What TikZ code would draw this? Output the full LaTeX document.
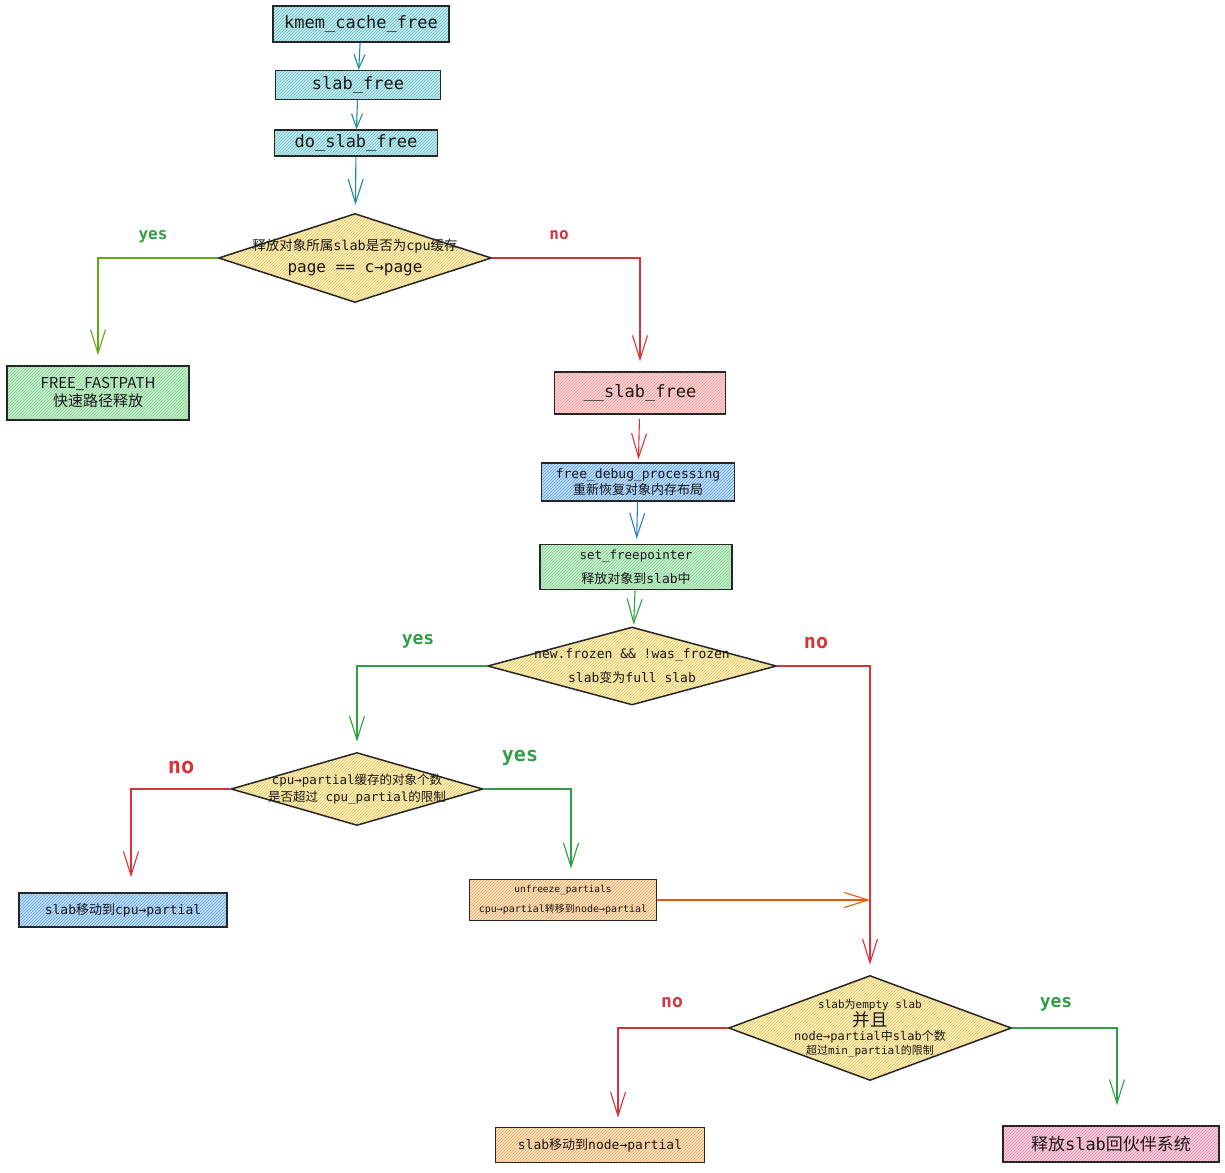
\documentclass[tikz,border=0pt]{standalone}
\usepackage{fontspec}
\setmonofont{DejaVu Sans Mono}
\newfontfamily\cjk{Noto Sans CJK SC}
\usepackage{tikz}
\usetikzlibrary{shapes.geometric}
\usetikzlibrary{arrows.meta}
\usetikzlibrary{patterns}

\definecolor{tealfill}{HTML}{C5ECEF}
\definecolor{tealline}{HTML}{66BCC6}
\definecolor{greenfill}{HTML}{C9F0CF}
\definecolor{greenline}{HTML}{7FCF8C}
\definecolor{pinkfill}{HTML}{FFD4D4}
\definecolor{pinkline}{HTML}{EC9A9A}
\definecolor{bluefill}{HTML}{C4E0FB}
\definecolor{blueline}{HTML}{5C9EE0}
\definecolor{orangefill}{HTML}{FFE2BF}
\definecolor{orangeline}{HTML}{E7A865}
\definecolor{yellowfill}{HTML}{FFF0B8}
\definecolor{yellowline}{HTML}{E2C36A}
\definecolor{rosefill}{HTML}{FCD0DF}
\definecolor{roseline}{HTML}{E58AA9}
\definecolor{tealarrow}{HTML}{1C8C9C}
\definecolor{redarrow}{HTML}{D6333A}
\definecolor{bluearrow}{HTML}{2D7CC9}
\definecolor{greenarrow}{HTML}{2F9E44}
\definecolor{olivearrow}{HTML}{66A80F}
\definecolor{orangearrow}{HTML}{E8590C}

\newcommand{\zh}[1]{{\cjk #1}}

\begin{document}
\begin{tikzpicture}[x=1pt,y=-1pt,
  box/.style={draw=black!85,line width=1.5pt,inner sep=0pt,align=center,text=black!90},
  hatch/.style 2 args={preaction={fill=#1},pattern=north east lines,pattern color=#2},
  decision/.style={shape=diamond,draw=black!85,line width=1.5pt,inner xsep=-50pt,inner ysep=0pt,
    aspect=3,align=center,text=black!90,hatch={yellowfill}{yellowline}},
  flow/.style={line width=1.1pt,-{Straight Barb[length=24pt,width=15pt]},shorten >=10pt},
  yeslabel/.style={font=\ttfamily\bfseries\fontsize{#1}{#1}\selectfont,text=greenarrow},
  nolabel/.style={font=\ttfamily\bfseries\fontsize{#1}{#1}\selectfont,text=redarrow},
]
  \useasboundingbox (0,0) rectangle (1225,1172);

  % call chain
  \node[box,hatch={tealfill}{tealline},minimum width=176pt,minimum height=36pt,
    font=\ttfamily\fontsize{17}{20}\selectfont] (kmem) at (361,24) {kmem\_cache\_free};
  \node[box,hatch={tealfill}{tealline},minimum width=165pt,minimum height=29pt,
    font=\ttfamily\fontsize{17}{20}\selectfont] (slabf) at (358,85) {slab\_free};
  \node[box,hatch={tealfill}{tealline},minimum width=163pt,minimum height=26pt,
    font=\ttfamily\fontsize{17}{20}\selectfont] (doslab) at (356,143) {do\_slab\_free};

  % first check
  \node[decision,minimum width=273pt,minimum height=89pt,
    font=\ttfamily\fontsize{13.5}{22}\selectfont] (d1) at (355,258)
    {\zh{释放对象所属}slab\zh{是否为}cpu\zh{缓存}\\{\fontsize{16}{22}\selectfont page == c→page}};
  \node[box,hatch={greenfill}{greenline},minimum width=182pt,minimum height=54pt,
    font=\cjk\fontsize{15}{18}\selectfont] (fast) at (98,393) {FREE\_FASTPATH\\快速路径释放};
  \node[box,hatch={pinkfill}{pinkline},minimum width=171pt,minimum height=42pt,
    font=\ttfamily\fontsize{17}{20}\selectfont] (sfree) at (640,393) {\_\_slab\_free};
  \node[box,hatch={bluefill}{blueline},minimum width=193pt,minimum height=38pt,
    font=\ttfamily\fontsize{13}{16}\selectfont] (debug) at (638,482)
    {free\_debug\_processing\\\zh{重新恢复对象内存布局}};
  \node[box,hatch={greenfill}{greenline},minimum width=192pt,minimum height=45pt,
    font=\ttfamily\fontsize{12.5}{24}\selectfont] (setfp) at (636,567)
    {set\_freepointer\\{\fontsize{13}{24}\selectfont\zh{释放对象到}slab\zh{中}}};

  % frozen check
  \node[decision,minimum width=289pt,minimum height=78pt,
    font=\ttfamily\fontsize{13}{24}\selectfont] (d2) at (632,666)
    {new.frozen \&\& !was\_frozen\\slab\zh{变为}full slab};
  \node[decision,minimum width=252pt,minimum height=73pt,
    font=\ttfamily\fontsize{12.5}{17}\selectfont] (d3) at (357,789)
    {cpu→partial\zh{缓存的对象个数}\\\zh{是否超过} cpu\_partial\zh{的限制}};
  \node[box,hatch={bluefill}{blueline},minimum width=208pt,minimum height=34pt,
    font=\ttfamily\fontsize{13}{16}\selectfont] (cpup) at (123,910) {slab\zh{移动到}cpu→partial};
  \node[box,hatch={orangefill}{orangeline},minimum width=187pt,minimum height=41pt,
    font=\ttfamily\fontsize{9.5}{20}\selectfont] (unf) at (563,900)
    {unfreeze\_partials\\{\fontsize{10}{20}\selectfont cpu→partial\zh{转移到}node→partial}};

  % empty check
  \node[decision,minimum width=283pt,minimum height=105pt,
    font=\ttfamily\fontsize{11}{14}\selectfont] (d4) at (870,1028)
    {slab\zh{为}empty slab\\{\cjk\fontsize{17.5}{18}\selectfont 并且}\\{\fontsize{12}{13}\selectfont node→partial\zh{中}slab\zh{个数}}\\\zh{超过}min\_partial\zh{的限制}};
  \node[box,hatch={orangefill}{orangeline},minimum width=209pt,minimum height=35pt,
    font=\ttfamily\fontsize{13}{16}\selectfont] (nodep) at (600,1145) {slab\zh{移动到}node→partial};
  \node[box,hatch={rosefill}{roseline},minimum width=216pt,minimum height=36pt,
    font=\ttfamily\fontsize{17}{20}\selectfont] (buddy) at (1111,1144) {\zh{释放}slab\zh{回伙伴系统}};

  % branch labels
  \node[yeslabel=16] (y1) at (153,237) {yes};
  \node[nolabel=16] (n1) at (559,235) {no};
  \node[yeslabel=18] (y2) at (418,641) {yes};
  \node[nolabel=20] (n2) at (816,643) {no};
  \node[nolabel=22] (n3) at (181,767) {no};
  \node[yeslabel=20] (y3) at (520,758) {yes};
  \node[nolabel=18] (n4) at (672,1003) {no};
  \node[yeslabel=18] (y4) at (1056,1004) {yes};

  % connectors
  \draw[flow,tealarrow,shorten >=0pt,-{Straight Barb[length=14pt,width=11pt]}] (kmem) -- (slabf);
  \draw[flow,tealarrow,shorten >=0pt,-{Straight Barb[length=14pt,width=11pt]}] (slabf) -- (doslab);
  \draw[flow,tealarrow,shorten >=8pt] (doslab) -- (d1);
  \draw[flow,olivearrow] (d1.west) -| (fast.north);
  \draw[flow,redarrow] (d1.east) -| (sfree.north);
  \draw[flow,redarrow,shorten <=4pt,shorten >=3pt] (sfree) -- (debug);
  \draw[flow,bluearrow,shorten >=5pt] (debug) -- (setfp);
  \draw[flow,greenarrow,shorten >=2pt] (setfp) -- (d2);
  \draw[flow,greenarrow] (d2.west) -| (d3.north);
  \draw[flow,redarrow] (d2.east) -| (d4.north);
  \draw[flow,redarrow,shorten >=15pt] (d3.west) -| ([xshift=8pt]cpup.north);
  \draw[flow,greenarrow] (d3.east) -| ([xshift=8pt]unf.north);
  \draw[flow,orangearrow,shorten >=0pt] (unf.east) -- (unf.east -| d4.north);
  \draw[flow,redarrow,shorten >=9pt] (d4.west) -| ([xshift=18pt]nodep.north);
  \draw[flow,greenarrow,shorten >=20pt] (d4.east) -| ([xshift=6pt]buddy.north);
\end{tikzpicture}
\end{document}
